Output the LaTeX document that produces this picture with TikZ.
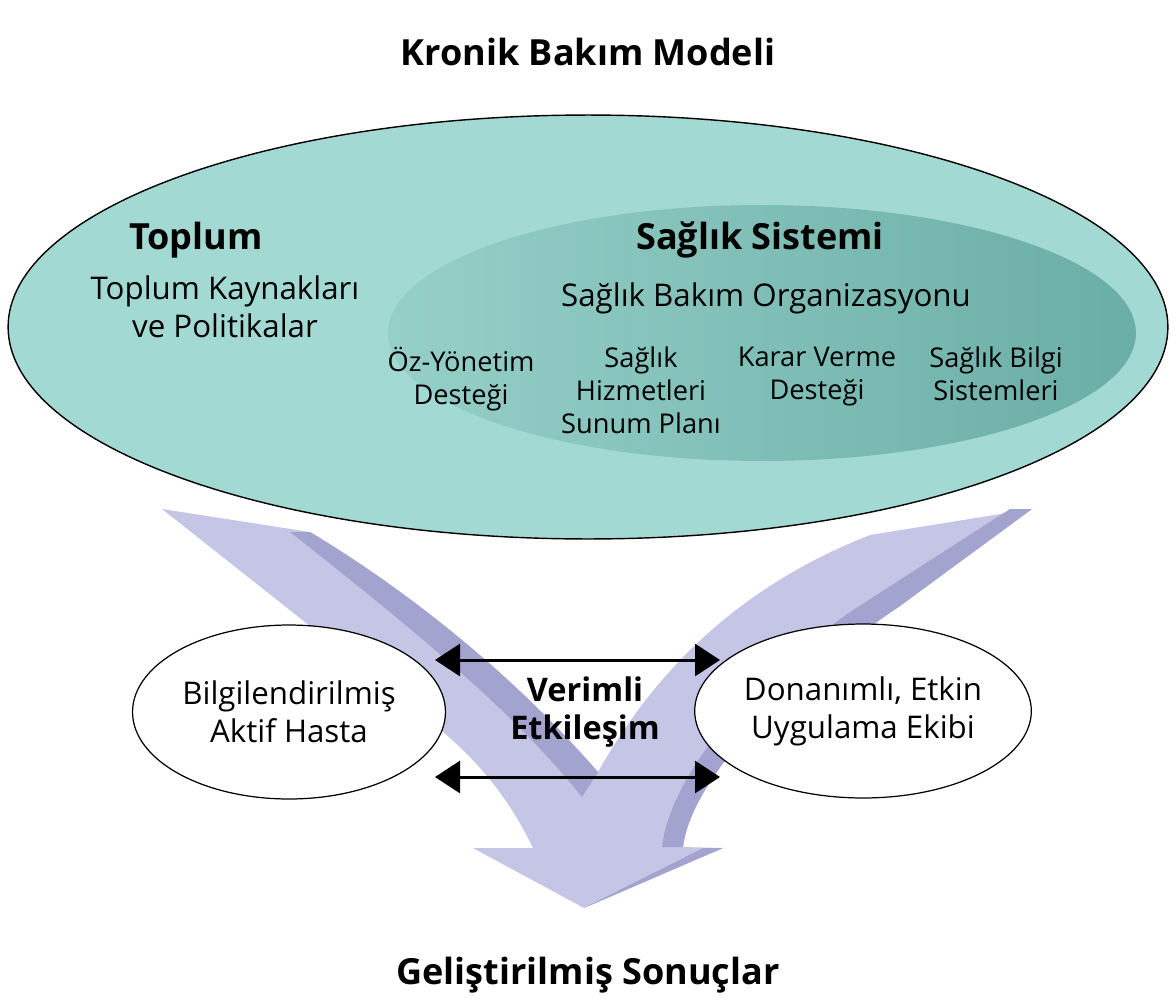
\documentclass[tikz,border=0pt]{standalone}
\usepackage{fontspec}
\setmainfont{Open Sans}
\usetikzlibrary{arrows.meta, shapes.geometric}
\definecolor{outerfill}{HTML}{A2D9D2}
\definecolor{innerleft}{HTML}{95CFC8}
\definecolor{innerright}{HTML}{6AAEA5}
\definecolor{flowlight}{HTML}{C5C5E6}
\definecolor{flowdark}{HTML}{A3A3D0}
\tikzset{
  heading/.style={font=\fontsize{20.5}{24}\selectfont\bfseries},
  subhead/.style={font=\fontsize{20.5}{24}\selectfont\bfseries},
  bodytext/.style={align=center, font=\fontsize{17.8}{21.6}\selectfont},
  coltext/.style={align=center, font=\fontsize{15.5}{18.8}\selectfont},
  actor/.style={
    ellipse, draw=black, fill=white, line width=0.7pt,
    minimum width=6.26cm, minimum height=3.48cm,
    inner sep=0pt, align=center, font=\fontsize{17.8}{21.6}\selectfont
  },
  dbl/.style={{Triangle[length=5mm,width=6.4mm]}-{Triangle[length=5mm,width=6.4mm]}, line width=1.7pt}
}

\begin{document}
\begin{tikzpicture}[x=0.02cm, y=-0.02cm]
  \useasboundingbox (0,0) rectangle (1176,1004);
  \fill[white] (0,0) rectangle (1176,1004);

  % big flow arrow
  \fill[flowlight] (162,509) -- (310,532) .. controls (390,580) and (500,660) .. (598,772)
    .. controls (650,680) and (730,590) .. (870,535) -- (1032,509) -- (900,606)
    .. controls (760,700) and (690,790) .. (683,847) -- (723,848) -- (584,908)
    -- (473,848) -- (533,848) .. controls (505,790) and (470,752) .. (420,713) -- cycle;
  \fill[flowdark] (290,532) -- (310,532) .. controls (390,580) and (500,660) .. (598,772)
    -- (582,797) .. controls (520,720) and (440,650) .. (290,532) -- cycle;
  \fill[flowdark] (1010,509) -- (1032,509) -- (900,606) .. controls (760,700) and (690,790) .. (683,847)
    -- (662,847) .. controls (670,780) and (740,690) .. (850,612) -- cycle;
  \fill[flowdark] (703,848) -- (723,848) -- (584,908) -- cycle;

  % model ellipses
  \draw[fill=outerfill, line width=0.8pt] (588,327) ellipse [x radius=11.6cm, y radius=4.24cm];
  \shade[left color=innerleft, right color=innerright] (762,333) ellipse [x radius=7.48cm, y radius=2.56cm];

  \node[heading] (title) at (588,52) {Kronik Bakım Modeli};
  \node[subhead] (toplum) at (196,240) {Toplum};
  \node[bodytext] (kaynak) at (225,307) {Toplum Kaynakları\\ve Politikalar};
  \node[subhead] (sistem) at (760,240) {Sağlık Sistemi};
  \node[bodytext] (org) at (766,298) {Sağlık Bakım Organizasyonu};
  \node[coltext, anchor=north] (oz) at (461,341) {Öz-Yönetim\\Desteği};
  \node[coltext, anchor=north] (sunum) at (641,341) {Sağlık\\Hizmetleri\\Sunum Planı};
  \node[coltext, anchor=north] (karar) at (817,341) {Karar Verme\\Desteği};
  \node[coltext, anchor=north] (bilgi) at (996,341) {Sağlık Bilgi\\Sistemleri};

  % interaction
  \node[actor] (hasta) at (289,712) {Bilgilendirilmiş\\Aktif Hasta};
  \node[actor] (ekip) at (863,711) {Donanımlı, Etkin\\Uygulama Ekibi};
  \coordinate (t1) at (435,660);
  \coordinate (t2) at (720,660);
  \coordinate (b1) at (435,777);
  \coordinate (b2) at (720,777);
  \draw[dbl] (t1) -- (t2);
  \draw[dbl] (b1) -- (b2);
  \node[align=center, font=\fontsize{18.5}{22}\selectfont\bfseries] (verim) at (585,712) {Verimli\\Etkileşim};

  \node[heading] (sonuc) at (588,975) {Geliştirilmiş Sonuçlar};
\end{tikzpicture}
\end{document}
